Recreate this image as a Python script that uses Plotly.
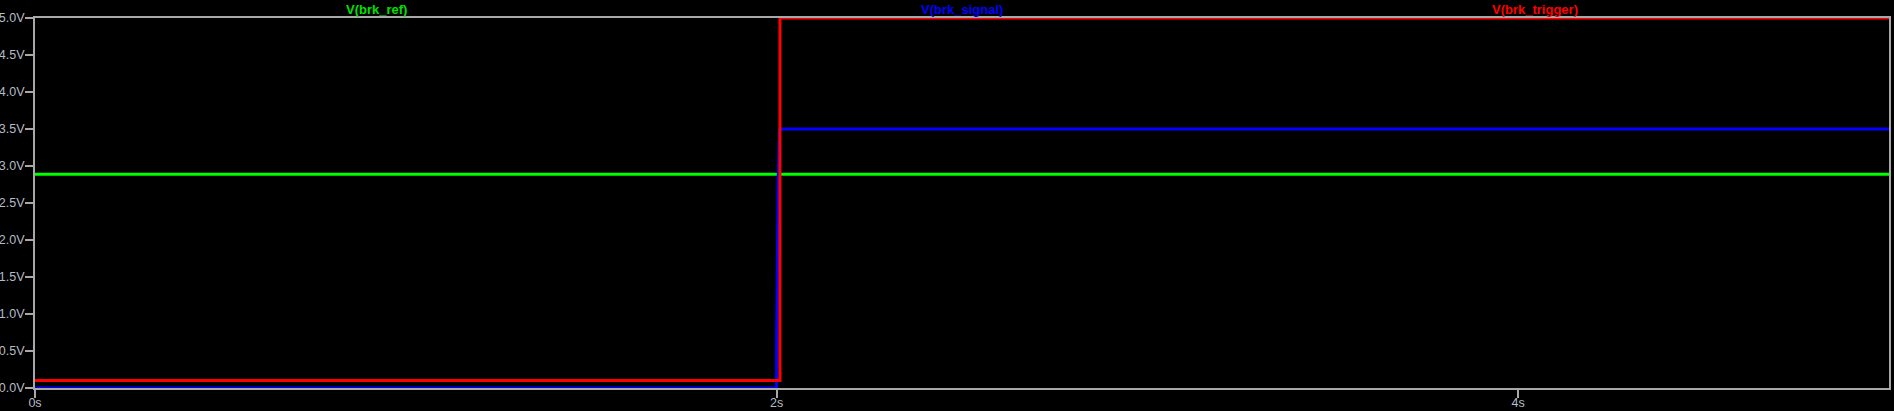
import plotly.graph_objects as go

# Данные осциллограмм (время в секундах, напряжение в вольтах)
t_ref = [0.0, 5.0]
v_ref = [2.89, 2.89]

t_signal = [0.0, 2.0, 2.0, 2.004, 2.004, 2.008, 5.0]
v_signal = [0.0, 0.0, 0.51, 2.55, 2.77, 3.5, 3.5]

t_trigger = [0.0, 2.009, 2.009, 5.0]
v_trigger = [0.1, 0.1, 5.0, 5.0]

y_ticks = [0.0, 0.5, 1.0, 1.5, 2.0, 2.5, 3.0, 3.5, 4.0, 4.5, 5.0]
y_labels = ['%.1fV' % v for v in y_ticks]
x_ticks = [0, 2, 4]
x_labels = ['0s', '2s', '4s']

names = ['V(brk_ref)', 'V(brk_signal)', 'V(brk_trigger)']
colors = ['#00ff00', '#0000ff', '#ff0000']
label_colors = ['#00e000', '#0000ff', '#ff0000']

frame = '#a8a8a8'
font = 'Arial, Liberation Sans, sans-serif'

fig = go.Figure()
for t, v, name, color in zip([t_ref, t_signal, t_trigger],
                             [v_ref, v_signal, v_trigger], names, colors):
    fig.add_trace(go.Scatter(x=t, y=v, mode='lines', name=name,
                             line=dict(color=color, width=3)))

# Подписи трасс над графиком, как в LTspice
for i, (name, color) in enumerate(zip(names, label_colors)):
    fig.add_annotation(text='<b>%s</b>' % name, x=(2 * i + 1) / 6, y=1.0,
                       xref='paper', yref='paper', yanchor='bottom',
                       showarrow=False, yshift=-1,
                       font=dict(color=color, size=13, family=font))

axis_style = dict(showgrid=False, zeroline=False, showline=True, mirror=True,
                  linecolor=frame, linewidth=2, ticks='outside', ticklen=8,
                  tickwidth=2, tickcolor=frame, layer='below traces',
                  automargin=False)

fig.update_layout(
    width=1894, height=411,
    paper_bgcolor='black', plot_bgcolor='black',
    margin=dict(l=35, r=5, t=18, b=23, autoexpand=False),
    showlegend=False,
    font=dict(family=font, size=13, color='#b4bcc8'),
    xaxis=dict(range=[0, 5], tickvals=x_ticks, ticktext=x_labels,
               ticklabelstandoff=-6, tickfont=dict(size=12.5), **axis_style),
    yaxis=dict(range=[0, 5], tickvals=y_ticks, ticktext=y_labels,
               ticklabelstandoff=-2, tickfont=dict(size=12.5), **axis_style),
)

# убрать отступы страницы, чтобы график занял всё окно
fig.write_html('out.html', config={'displayModeBar': False},
               post_script="document.body.style.margin='0';"
                           "document.body.style.overflow='hidden';"
                           "document.body.style.background='black';")
